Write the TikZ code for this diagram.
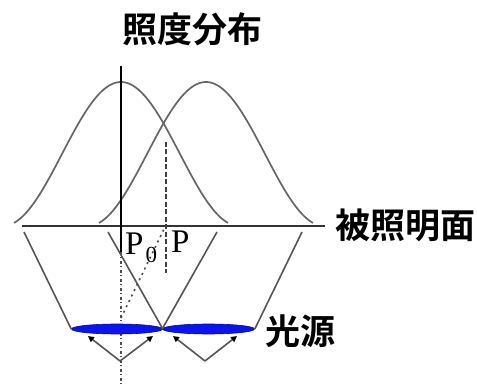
\documentclass[tikz,border=0pt]{standalone}
\usepackage{fontspec}
\setmainfont{Liberation Serif}
\newfontfamily\cjk{Noto Sans CJK JP}[BoldFont={Noto Sans CJK JP Bold}]
\usepackage{tikz}
\usetikzlibrary{positioning,arrows.meta,calc,shapes.geometric}
\definecolor{curve}{HTML}{666666}
\definecolor{beam}{HTML}{555555}
\definecolor{lamp}{HTML}{0A14F0}

\begin{document}
\begin{tikzpicture}[x=1pt, y=-1pt,
  bell/.style={curve, line width=1.7pt},
  ray/.style={beam, line width=1.6pt},
  back/.style={beam, line width=1.6pt, {Triangle[length=6pt, width=6pt, black]}-},
  lbl/.style={font=\cjk\bfseries\fontsize{35}{35}\selectfont, inner sep=0pt},
  pt/.style={font=\fontsize{33}{33}\selectfont, inner sep=0pt, anchor=base west}]
\useasboundingbox (0,0) rectangle (477,387);
% illuminance curves
\foreach \c in {121,206} \draw[bell] plot[domain=-107:107, samples=80] ({\c+\x},{226-72*(1+cos(\x/118*180))});
% surface and axes
\coordinate (sl) at (22,226);
\coordinate (sr) at (325,226);
\coordinate (vt) at (121,66);
\coordinate (vb) at (121,252);
\coordinate (vd) at (121,385);
\coordinate (pt) at (166,142);
\coordinate (pb) at (166,273);
\draw[line width=1.7pt, black!80] (sl) -- (sr);
\draw[line width=1.5pt] (vt) -- (vb);
\draw[line width=1.5pt, black!70, dash pattern=on 3pt off 2.5pt on 1pt off 2.5pt] (vb) -- (vd);
\draw[line width=2pt, black!75, dash pattern=on 5pt off 2.5pt] (pt) -- (pb);
% sources
\node[ellipse, fill=lamp, draw=lamp!55!black, line width=0.6pt, minimum width=91, minimum height=10, inner sep=0pt] (srcL) at (117,329) {};
\node[ellipse, fill=lamp, draw=lamp!55!black, line width=0.6pt, minimum width=92, minimum height=10, inner sep=0pt] (srcR) at (208.5,329) {};
% beam edges
\coordinate (a1) at (24,232);
\coordinate (a2) at (108,232);
\coordinate (a3) at (217,232);
\coordinate (a4) at (302,232);
\draw[ray] (srcL.west) -- (a1);
\draw[ray] (srcL.east) -- (a2);
\draw[ray] (srcR.west) -- (a3);
\draw[ray] (srcR.east) -- (a4);
% reflector
\coordinate (r1) at (88,336);
\coordinate (r2) at (153,336);
\coordinate (r3) at (173,336);
\coordinate (r4) at (237,336);
\coordinate (vL) at (120,361);
\coordinate (vR) at (205,361);
\draw[back] (r1) -- (vL);
\draw[back] (r2) -- (vL);
\draw[back] (r3) -- (vR);
\draw[back] (r4) -- (vR);
% oblique ray to P
\coordinate (o1) at (121,318);
\coordinate (o2) at (165,227);
\draw[black!70, line width=1.6pt, dash pattern=on 2pt off 4pt] (o1) -- (o2);
% labels
\node[pt] (P0) at (125,255) {P\kern2pt\raisebox{-8pt}{\fontsize{23}{23}\selectfont 0}};
\node[pt] (P) at (171,253) {P};
\node[lbl] (title) at (192,29) {照度分布};
\node[lbl, anchor=west] (surf) at (335,225) {被照明面};
\node[lbl] (src) at (300,331) {光源};
\end{tikzpicture}
\end{document}
